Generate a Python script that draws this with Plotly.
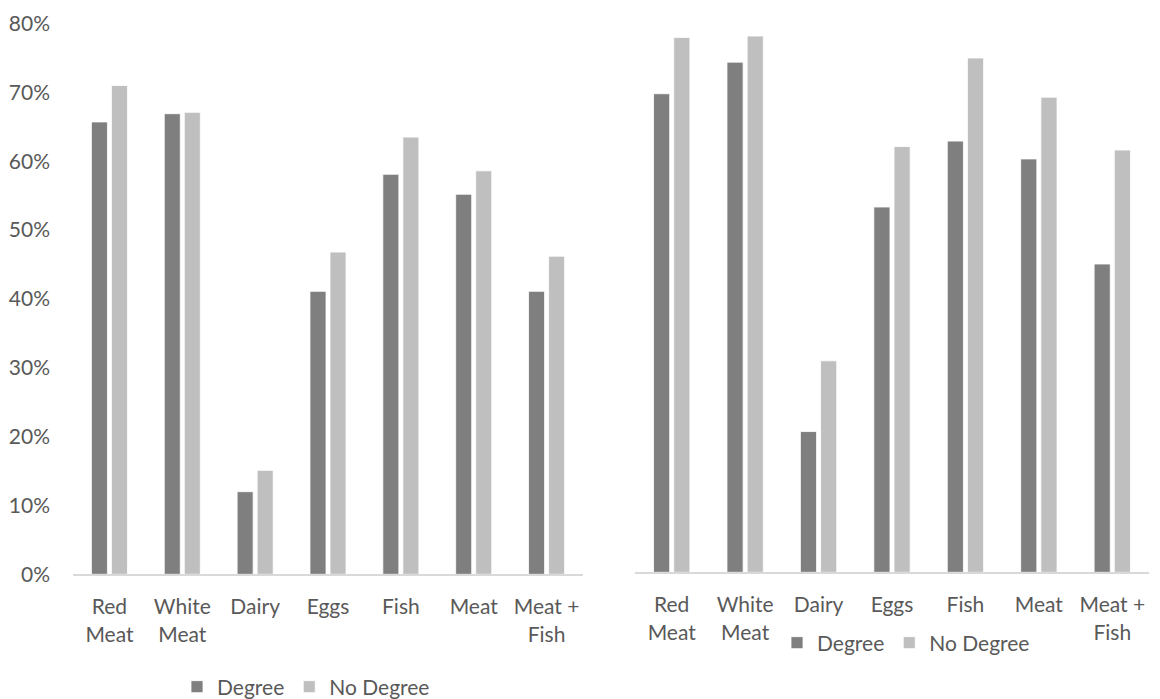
import plotly.graph_objects as go

categories = ["Red<br>Meat", "White<br>Meat", "Dairy", "Eggs", "Fish", "Meat", "Meat +<br>Fish"]

left_degree = [0.657, 0.669, 0.120, 0.411, 0.581, 0.552, 0.411]
left_no_degree = [0.710, 0.671, 0.151, 0.468, 0.635, 0.586, 0.462]

right_degree = [0.697, 0.743, 0.205, 0.532, 0.628, 0.602, 0.449]
right_no_degree = [0.779, 0.781, 0.308, 0.620, 0.749, 0.692, 0.615]

series_names = ["Degree", "No Degree"]
DARK = "#7f7f7f"
LIGHT = "#bfbfbf"
TEXT = "#595959"
FONT = "Lato"

fig = go.Figure()

fig.add_trace(go.Bar(x=categories, y=left_degree, name=series_names[0], marker=dict(color=DARK, line=dict(color="white", width=0.8)),
                     xaxis="x", yaxis="y", legend="legend"))
fig.add_trace(go.Bar(x=categories, y=left_no_degree, name=series_names[1], marker=dict(color=LIGHT, line=dict(color="white", width=0.8)),
                     xaxis="x", yaxis="y", legend="legend"))
fig.add_trace(go.Bar(x=categories, y=right_degree, name=series_names[0], marker=dict(color=DARK, line=dict(color="white", width=0.8)),
                     xaxis="x2", yaxis="y2", legend="legend2"))
fig.add_trace(go.Bar(x=categories, y=right_no_degree, name=series_names[1], marker=dict(color=LIGHT, line=dict(color="white", width=0.8)),
                     xaxis="x2", yaxis="y2", legend="legend2"))

# page body has an 8px margin, so figure coordinates are screen coordinates minus 8
W, H = 1144, 691
OFF = 8

xaxis_common = dict(showline=True, linecolor="#d9d9d9", linewidth=1.5, showgrid=False, zeroline=False,
                    ticks="", tickfont=dict(family=FONT, size=21, color=TEXT), ticklabelstandoff=13,
                    fixedrange=True, automargin=False)

fig.update_layout(
    template="none",
    width=W, height=H,
    margin=dict(l=0, r=0, t=0, b=0, autoexpand=False),
    paper_bgcolor="white", plot_bgcolor="white",
    barmode="group", bargap=0.45, bargroupgap=0.2,
    font=dict(family=FONT, size=21, color=TEXT),
    xaxis=dict(domain=[(73 - OFF) / W, (583 - OFF) / W], anchor="y", **xaxis_common),
    xaxis2=dict(domain=[(635 - OFF) / W, (1149 - OFF) / W], anchor="y2", **xaxis_common),
    yaxis=dict(domain=[(H - (574.3 - OFF)) / H, (H - (23.5 - OFF)) / H], range=[0, 0.8], dtick=0.1, tickformat=".0%",
               showgrid=False, zeroline=False, showline=False, ticks="", automargin=False,
               tickfont=dict(family=FONT, size=21, color=TEXT), ticklabelstandoff=22),
    yaxis2=dict(domain=[(H - (572.3 - OFF)) / H, (H - (23 - OFF)) / H], range=[0, 0.8], showticklabels=False,
                showgrid=False, zeroline=False, showline=False, anchor="x2", automargin=False),
    legend=dict(orientation="h", x=(306 - OFF) / W, xanchor="center", y=(H - (687 - OFF)) / H, yanchor="middle",
                font=dict(family=FONT, size=21, color=TEXT), bgcolor="rgba(0,0,0,0)",
                itemwidth=30, traceorder="normal"),
    legend2=dict(orientation="h", x=(906 - OFF) / W, xanchor="center", y=(H - (643 - OFF)) / H, yanchor="middle",
                 font=dict(family=FONT, size=21, color=TEXT), bgcolor="rgba(0,0,0,0)",
                 itemwidth=30, traceorder="normal"),
)

fig.write_html("out.html")
